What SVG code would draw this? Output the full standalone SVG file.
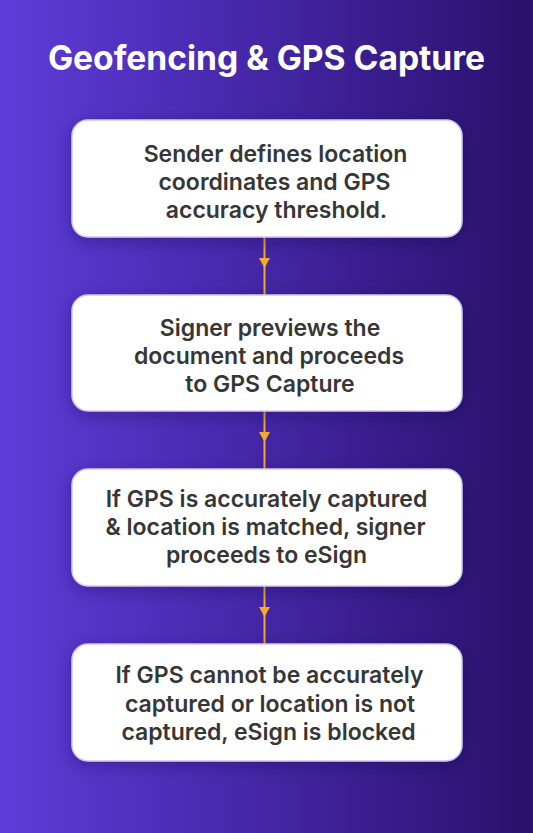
<svg xmlns="http://www.w3.org/2000/svg" width="533" height="833" viewBox="0 0 533 833">
<defs>
<linearGradient id="bg" x1="0" y1="0" x2="1" y2="0">
<stop offset="0" stop-color="#5e3cd9"/>
<stop offset="0.45" stop-color="#4628aa"/>
<stop offset="1" stop-color="#2a116b"/>
</linearGradient>
<filter id="sh" x="-20%" y="-30%" width="140%" height="160%">
<feDropShadow dx="0" dy="4" stdDeviation="8" flood-color="#1a0a45" flood-opacity="0.35"/>
</filter>
<marker id="ah" viewBox="0 0 10 11" markerWidth="10" markerHeight="11" refX="8" refY="5.5" orient="auto" markerUnits="userSpaceOnUse">
<path d="M0,0 L10,5.5 L0,11 z" fill="#f6a928"/>
</marker>
<style>
.box{fill:#ffffff;stroke:#cfc6f2;stroke-width:1.5;filter:url(#sh)}
.t{font-family:Inter,"Noto Sans",sans-serif;font-weight:600;font-size:23px;fill:#363636;text-anchor:middle}
.title{font-family:Inter,"Noto Sans",sans-serif;font-weight:700;font-size:33.6px;fill:#ffffff;text-anchor:middle}
.c{fill:none;stroke:#f6a928;stroke-width:2;marker-mid:url(#ah)}
</style>
</defs>
<rect width="533" height="833" fill="url(#bg)"/>
<text class="title" x="266.5" y="70">Geofencing &amp; GPS Capture</text>
<g id="connectors">
<polyline class="c" points="264.5,237 264.5,266 264.5,295"/>
<polyline class="c" points="264.5,411 264.5,440 264.5,469"/>
<polyline class="c" points="264.5,586 264.5,615 264.5,644"/>
</g>
<g id="n1">
<rect class="box" x="72" y="120" width="390" height="117" rx="16"/>
<text class="t" x="275.5" y="162">Sender defines location</text>
<text class="t" x="274.5" y="190">coordinates and GPS</text>
<text class="t" x="276.5" y="218">accuracy threshold.</text>
</g>
<g id="n2">
<rect class="box" x="72" y="295" width="390" height="116" rx="16"/>
<text class="t" x="270" y="336">Signer previews the</text>
<text class="t" x="269" y="364">document and proceeds</text>
<text class="t" x="270" y="392">to GPS Capture</text>
</g>
<g id="n3">
<rect class="box" x="72" y="469" width="390" height="117" rx="16"/>
<text class="t" x="266.5" y="507">If GPS is accurately captured</text>
<text class="t" x="265.5" y="535">&amp; location is matched, signer</text>
<text class="t" x="266.5" y="563">proceeds to eSign</text>
</g>
<g id="n4">
<rect class="box" x="72" y="644" width="390" height="117" rx="16"/>
<text class="t" x="269.5" y="683">If GPS cannot be accurately</text>
<text class="t" x="270" y="712">captured or location is not</text>
<text class="t" x="268.5" y="740">captured, eSign is blocked</text>
</g>
</svg>
